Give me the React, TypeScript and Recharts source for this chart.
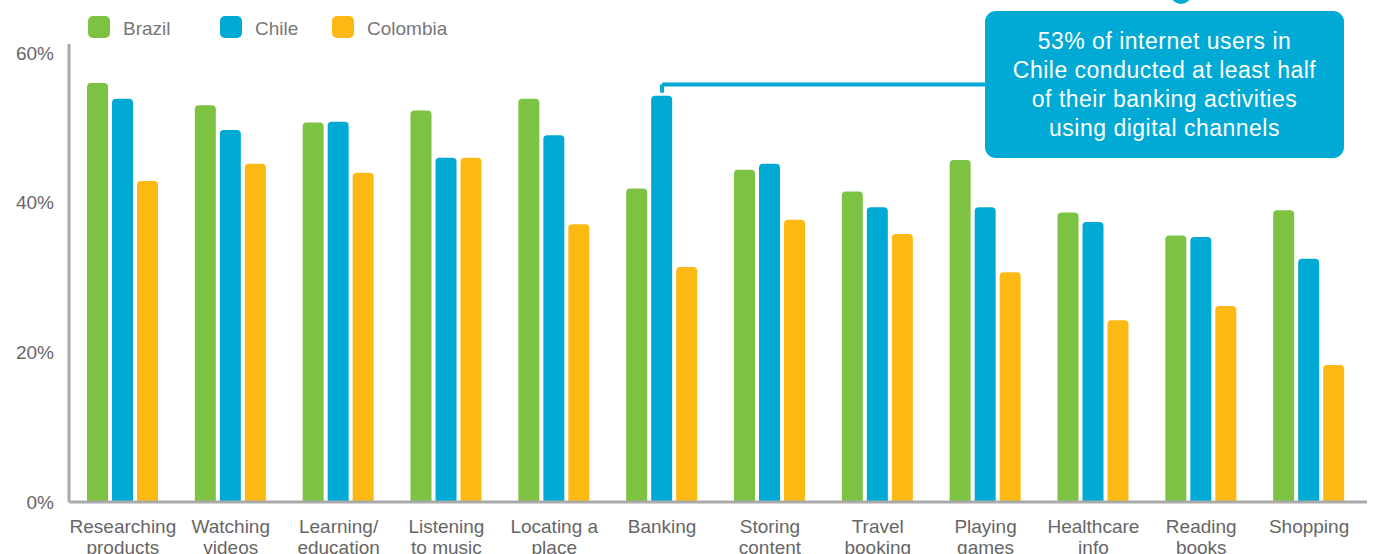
import React from "react"
import { BarChart, Bar, XAxis, YAxis, ReferenceLine } from "recharts"

const categories = [
  ["Researching", "products"],
  ["Watching", "videos"],
  ["Learning/", "education"],
  ["Listening", "to music"],
  ["Locating a", "place"],
  ["Banking", ""],
  ["Storing", "content"],
  ["Travel", "booking"],
  ["Playing", "games"],
  ["Healthcare", "info"],
  ["Reading", "books"],
  ["Shopping", ""],
]

const brazil = [56, 53, 50.7, 52.3, 53.9, 41.9, 44.4, 41.5, 45.7, 38.7, 35.6, 39]
const chile = [53.9, 49.7, 50.8, 46, 49, 54.3, 45.2, 39.4, 39.4, 37.4, 35.4, 32.5]
const colombia = [42.9, 45.2, 44, 46, 37.1, 31.4, 37.7, 35.8, 30.7, 24.3, 26.2, 18.3]

const yTicks = [0, 20, 40, 60]

const series = [
  { key: "brazil", name: "Brazil", color: "#7DC243" },
  { key: "chile", name: "Chile", color: "#00AAD4" },
  { key: "colombia", name: "Colombia", color: "#FCB813" },
]

const note = [
  "53% of internet users in",
  "Chile conducted at least half",
  "of their banking activities",
  "using digital channels",
]

const FONT = "'Liberation Sans', Arial, Helvetica, sans-serif"

const data = categories.map((c, i) => ({
  name: c.join(" ").trim(),
  brazil: brazil[i],
  chile: chile[i],
  colombia: colombia[i],
}))

const CategoryTick = ({ x, y, payload, index }: any) => {
  const lines = categories[index] ?? [payload.value, ""]
  return (
    <text x={x} y={y} textAnchor="middle" fill="#666" fontSize={19} fontFamily={FONT}>
      <tspan x={x} dy={23}>{lines[0]}</tspan>
      <tspan x={x} dy={21}>{lines[1]}</tspan>
    </text>
  )
}

// legend drawn as plain html so it doesn't push the plot down
const legendLeft = [88, 220, 332]

function ChartLegend() {
  return (
    <>
      {series.map((s, i) => (
        <div
          key={s.key}
          style={{
            position: "absolute",
            left: legendLeft[i],
            top: 16,
            display: "flex",
            alignItems: "center",
            fontFamily: FONT,
            fontSize: 19,
            color: "#777",
          }}
        >
          <div style={{ width: 22, height: 22, borderRadius: 5, background: s.color, marginRight: 13 }} />
          <span style={{ position: "relative", top: 2 }}>{s.name}</span>
        </div>
      ))}
    </>
  )
}

export default function App() {
  const bankingName = data[5].name
  const playingName = data[8].name
  return (
    <div style={{ position: "fixed", left: 0, top: 0, width: 1373, height: 554, background: "#fff", overflow: "hidden" }}>
      <BarChart
        width={1373}
        height={554}
        data={data}
        margin={{ top: 44, right: 6, left: 0, bottom: 2 }}
        barSize={21}
        barGap={4}
      >
        <XAxis
          dataKey="name"
          height={50}
          tickLine={false}
          axisLine={{ stroke: "#aaa", strokeWidth: 3 }}
          tick={<CategoryTick />}
          interval={0}
          padding={{ left: 0, right: 4 }}
        />
        <YAxis
          width={69}
          domain={[0, 61.2]}
          ticks={yTicks}
          tickLine={false}
          tickMargin={9}
          axisLine={{ stroke: "#aaa", strokeWidth: 3 }}
          tickFormatter={(v: number) => `${v}%`}
          tick={{ fill: "#666", fontSize: 19, fontFamily: FONT }}
        />
        {series.map((s) => (
          <Bar
            key={s.key}
            dataKey={s.key}
            name={s.name}
            fill={s.color}
            radius={[4, 4, 0, 0]}
            isAnimationActive={false}
          />
        ))}
        <ReferenceLine
          segment={[{ x: bankingName, y: 54.7 }, { x: bankingName, y: 55.8 }]}
          stroke="#00AAD4"
          strokeWidth={4}
          ifOverflow="visible"
        />
        <ReferenceLine
          segment={[{ x: bankingName, y: 55.8 }, { x: playingName, y: 55.8 }]}
          stroke="#00AAD4"
          strokeWidth={4}
          ifOverflow="visible"
        />
      </BarChart>
      <ChartLegend />
      <div
        style={{
          position: "absolute",
          left: 985,
          top: 11,
          width: 359,
          height: 147,
          borderRadius: 11,
          background: "#00AAD4",
          color: "#fff",
          fontFamily: FONT,
          fontSize: 23,
          letterSpacing: 0.5,
          lineHeight: "29px",
          textAlign: "center",
          display: "flex",
          flexDirection: "column",
          justifyContent: "center",
        }}
      >
        {note.map((l) => (
          <div key={l}>{l}</div>
        ))}
      </div>
      <div
        style={{
          position: "absolute",
          left: 1171,
          top: -14,
          width: 20,
          height: 18,
          borderRadius: "50%",
          background: "#00AAD4",
        }}
      />
    </div>
  )
}
